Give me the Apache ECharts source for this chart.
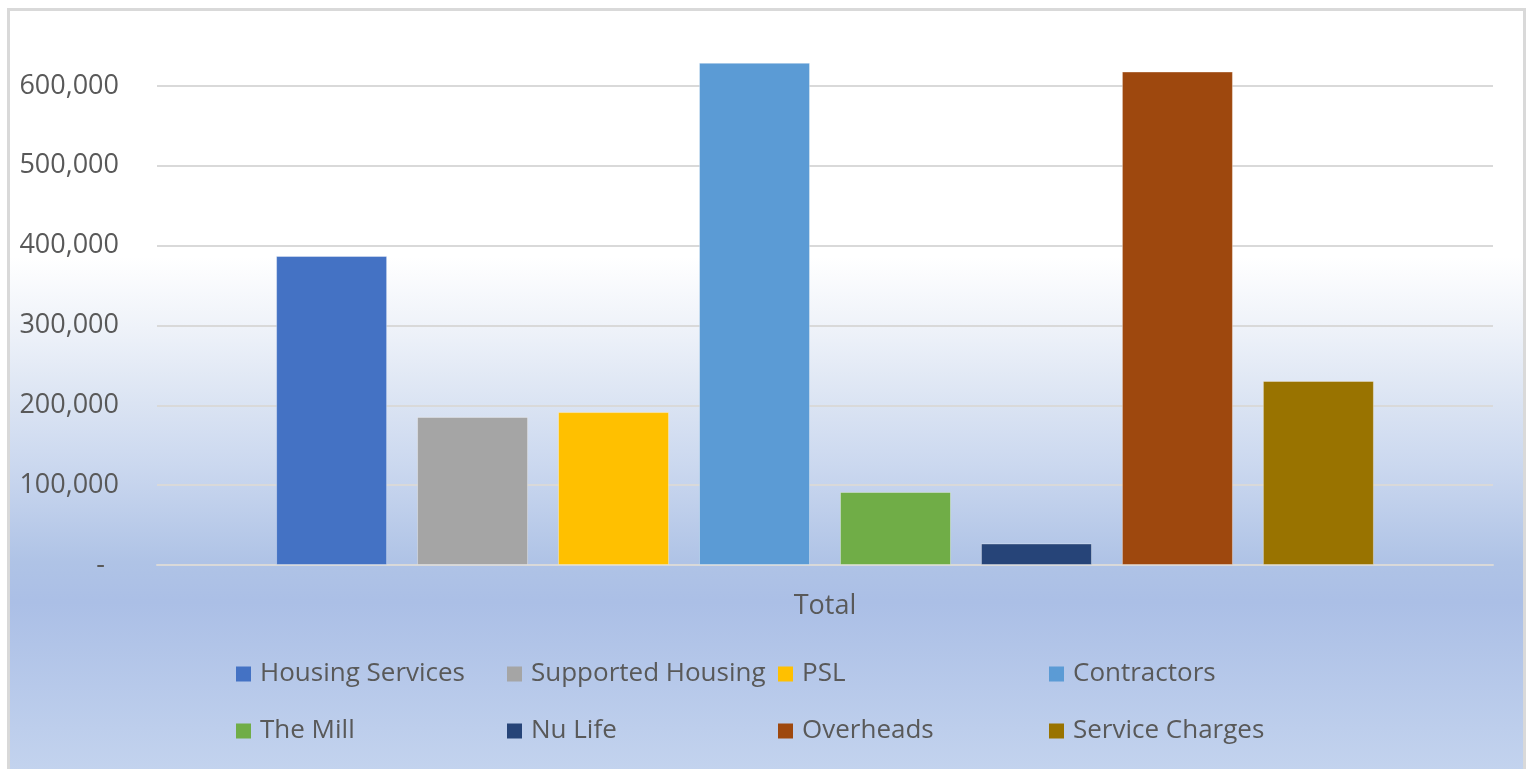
<!DOCTYPE html>
<html>
<head>
<meta charset="utf-8">
<script src="https://cdn.jsdelivr.net/npm/echarts@6/dist/echarts.min.js"></script>
<style>
html, body { margin: 0; padding: 0; background: #ffffff; }
#chart { width: 1527px; height: 769px; }
</style>
</head>
<body>
<div id="chart"></div>
<script>
// ---- data ----
const categories = ['Total'];
const seriesNames = ['Housing Services', 'Supported Housing', 'PSL', 'Contractors', 'The Mill', 'Nu Life', 'Overheads', 'Service Charges'];
const seriesValues = [387000, 185500, 191500, 629000, 91500, 27000, 618000, 230500];
const seriesColors = ['#4472C4', '#A5A5A5', '#FFC000', '#5B9BD5', '#70AD47', '#264478', '#9E480E', '#997300'];
const yMin = 0, yMax = 660000, yStep = 100000;

const FONT = 'Open Sans';
const TXT = '#595959';

const chart = echarts.init(document.getElementById('chart'), null, { renderer: 'canvas' });

const series = seriesNames.map((name, i) => ({
  name: name,
  type: 'bar',
  data: [seriesValues[i]],
  barWidth: 111,
  barGap: '27%',
  itemStyle: { color: seriesColors[i], borderColor: 'rgba(255,255,255,0.35)', borderWidth: 1 },
  emphasis: { disabled: true }
}));

const legendCommon = {
  left: 236,
  padding: 0,
  itemWidth: 15,
  itemHeight: 15,
  itemGap: 0,
  icon: 'rect',
  itemStyle: { borderWidth: 0 },
  textStyle: { fontFamily: FONT, fontSize: 26, color: TXT, width: 247, lineHeight: 30, padding: [0, 0, 0, 4] }
};

chart.setOption({
  animation: false,
  backgroundColor: 'transparent',
  graphic: [{
    type: 'rect',
    z: -10,
    silent: true,
    shape: { x: 8.5, y: 9.5, width: 1516, height: 800 },
    style: {
      fill: {
        type: 'linear', x: 0, y: 0, x2: 0, y2: 1,
        colorStops: [
          { offset: 0, color: '#ffffff' },
          { offset: 0.31, color: '#ffffff' },
          { offset: 0.40, color: '#eef2f9' },
          { offset: 0.49, color: '#dbe4f3' },
          { offset: 0.57, color: '#cbd8ef' },
          { offset: 0.69, color: '#afc3e6' },
          { offset: 0.74, color: '#abbfe6' },
          { offset: 0.95, color: '#c3d3ee' },
          { offset: 1, color: '#c6d5ef' }
        ]
      },
      stroke: '#d9d9d9',
      lineWidth: 3
    }
  }],
  grid: { left: 157, right: 34, top: 38, bottom: 204 },
  legend: [
    Object.assign({}, legendCommon, { top: 659, data: seriesNames.slice(0, 4) }),
    Object.assign({}, legendCommon, { top: 716, data: seriesNames.slice(4, 8) })
  ],
  xAxis: {
    type: 'category',
    data: categories,
    axisLine: { show: true, lineStyle: { color: '#d9d9d9', width: 2 } },
    axisTick: { show: false },
    axisLabel: { fontFamily: FONT, fontSize: 27, color: TXT, margin: 28 }
  },
  yAxis: {
    type: 'value',
    min: yMin,
    max: yMax,
    interval: yStep,
    axisLine: { show: false },
    axisTick: { show: false },
    splitLine: { show: true, showMaxLine: false, lineStyle: { color: '#d9d9d9', width: 2 } },
    axisLabel: {
      fontFamily: FONT, fontSize: 27, color: TXT, margin: 38, showMaxLabel: false,
      formatter: function (v) {
        if (v % yStep !== 0) return '';
        if (v === 0) return '-  ';
        return v.toLocaleString('en-US');
      }
    }
  },
  series: series
});
</script>
</body>
</html>
